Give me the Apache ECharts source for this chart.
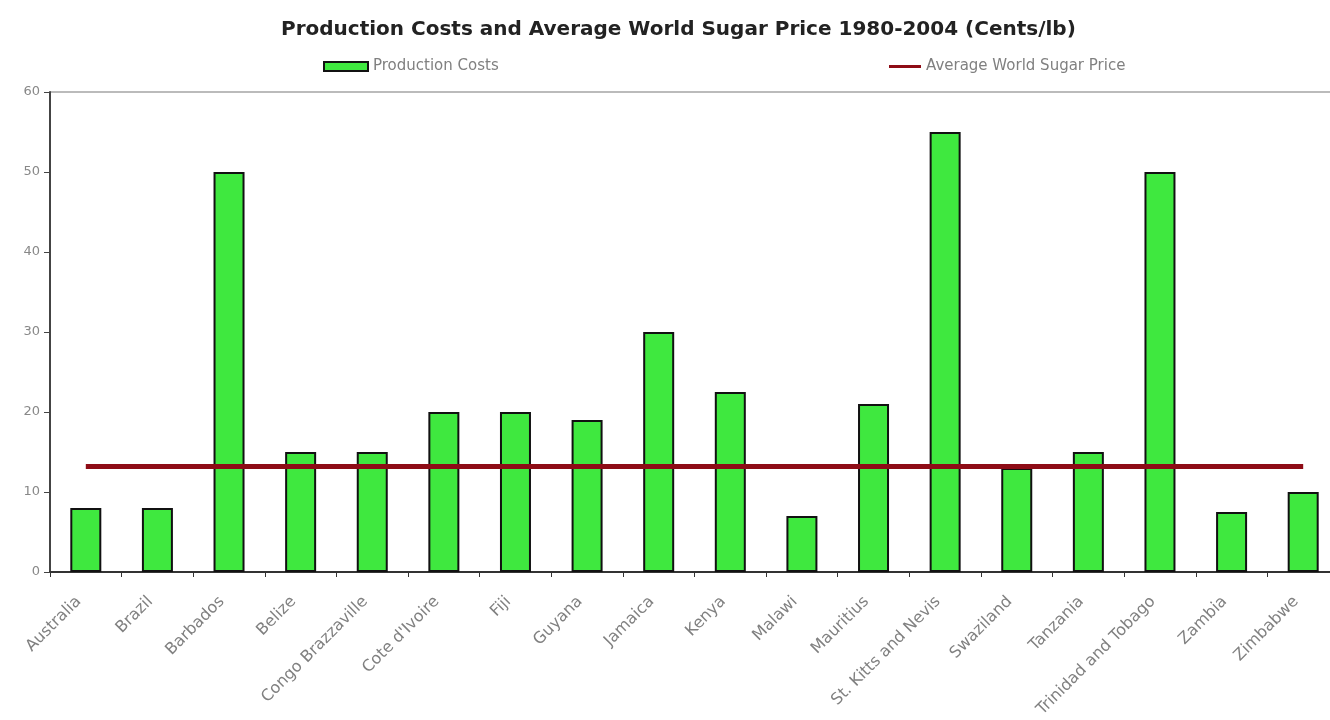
<!DOCTYPE html>
<html>
<head>
<meta charset="utf-8">
<script src="https://cdn.jsdelivr.net/npm/echarts@6/dist/echarts.min.js"></script>
<style>
  html, body { margin: 0; padding: 0; background: #fff; }
  #chart { width: 1330px; height: 720px; }
</style>
</head>
<body>
<div id="chart"></div>
<script>
const countries = ['Australia', 'Brazil', 'Barbados', 'Belize', 'Congo Brazzaville', "Cote d'Ivoire", 'Fiji', 'Guyana',
  'Jamaica', 'Kenya', 'Malawi', 'Mauritius', 'St. Kitts and Nevis', 'Swaziland', 'Tanzania', 'Trinidad and Tobago',
  'Zambia', 'Zimbabwe'];
const productionCosts = [8, 8, 50, 15, 15, 20, 20, 19, 30, 22.5, 7, 21, 55, 13, 15, 50, 7.5, 10];
const worldPrice = countries.map(() => 13.2);
const yTicks = [0, 10, 20, 30, 40, 50, 60];

const chart = echarts.init(document.getElementById('chart'));

const option = {
  backgroundColor: '#ffffff',
  animation: false,
  textStyle: { fontFamily: 'DejaVu Sans, sans-serif' },
  title: {
    text: 'Production Costs and Average World Sugar Price 1980-2004 (Cents/lb)',
    left: 276,
    top: 15,
    textStyle: { fontSize: 20, fontWeight: 'bold', color: '#222', fontFamily: 'DejaVu Sans, sans-serif' }
  },
  legend: [
    {
      data: [{ name: 'Production Costs', icon: 'rect' }],
      left: 318,
      top: 54,
      itemWidth: 44,
      itemHeight: 9,
      itemGap: 4,
      textStyle: { color: '#808080', fontSize: 15 }
    },
    {
      data: [{ name: 'Average World Sugar Price', icon: 'rect', itemStyle: { color: '#8e0c16' } }],
      left: 884,
      top: 54,
      itemWidth: 32,
      itemHeight: 3,
      itemGap: 4,
      textStyle: { color: '#808080', fontSize: 15 }
    }
  ],
  grid: { left: 50, top: 92, width: 1289, height: 480, outerBoundsMode: 'none', containLabel: false },
  xAxis: {
    type: 'category',
    data: countries,
    boundaryGap: true,
    axisLine: { lineStyle: { color: '#333', width: 2 } },
    axisTick: { show: true, length: 5, lineStyle: { color: '#333' } },
    axisLabel: {
      rotate: 45,
      interval: 0,
      margin: 20,
      padding: [0, 10, 0, 0],
      color: '#808080',
      fontSize: 16
    }
  },
  yAxis: {
    type: 'value',
    min: 0,
    max: 60,
    interval: 10,
    axisLine: { show: true, lineStyle: { color: '#444', width: 2 } },
    axisTick: { show: true, length: 6, lineStyle: { color: '#444' } },
    axisLabel: {
      color: '#888',
      fontSize: 13,
      margin: 10,
      formatter: v => (yTicks.includes(v) ? String(v) : '')
    },
    splitLine: {
      show: true,
      lineStyle: { color: ['transparent', 'transparent', 'transparent', 'transparent', 'transparent', 'transparent', '#bbb'], width: 2 }
    }
  },
  series: [
    {
      name: 'Production Costs',
      type: 'bar',
      data: productionCosts,
      barWidth: 31,
      itemStyle: { color: '#3fe83f', borderColor: '#111', borderWidth: 2 }
    },
    {
      name: 'Average World Sugar Price',
      type: 'line',
      data: worldPrice,
      symbol: 'none',
      lineStyle: { color: '#8e0c16', width: 5 },
      itemStyle: { color: '#8e0c16' }
    }
  ]
};

chart.setOption(option);
</script>
</body>
</html>
